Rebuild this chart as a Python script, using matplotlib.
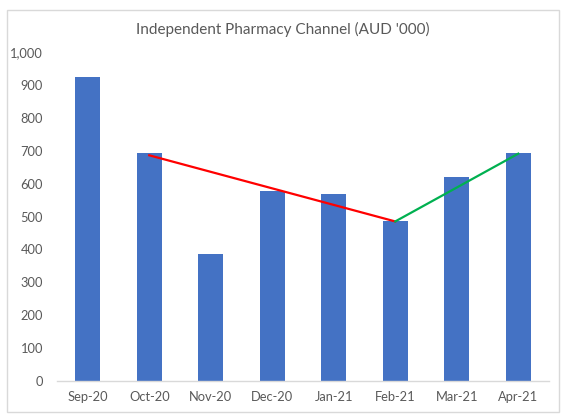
import matplotlib
matplotlib.use("Agg")
import matplotlib.pyplot as plt
from matplotlib.patches import Rectangle
from matplotlib.ticker import FuncFormatter

categories = ["Sep-20", "Oct-20", "Nov-20", "Dec-20", "Jan-21", "Feb-21", "Mar-21", "Apr-21"]
values = [924, 693, 386, 577, 568, 485, 620, 694]

red_trend_cats = ["Oct-20", "Feb-21"]
red_trend_vals = [686, 485]
green_trend_cats = ["Feb-21", "Apr-21"]
green_trend_vals = [485, 691]

yticks = list(range(0, 1001, 100))
title = "Independent Pharmacy Channel (AUD '000)"

plt.rcParams["font.family"] = ["Lato", "DejaVu Sans"]

W, H = 565, 419
fig = plt.figure(figsize=(W / 100, H / 100), dpi=100)
ax = fig.add_axes([57 / W, (H - 381) / H, (549 - 57) / W, (381 - 52) / H])

x = list(range(len(categories)))
ax.bar(x, values, width=0.4, color="#4472C4", zorder=2)

idx = {c: i for i, c in enumerate(categories)}
ax.plot([idx[c] for c in red_trend_cats], red_trend_vals, color="#FF0000", lw=1.6, zorder=3)
ax.plot([idx[c] for c in green_trend_cats], green_trend_vals, color="#00B050", lw=1.6, zorder=3)

ax.set_xlim(-0.5, len(categories) - 0.5)
ax.set_ylim(0, 1000)
ax.set_xticks(x)
ax.set_xticklabels(categories)
ax.set_yticks(yticks)
ax.yaxis.set_major_formatter(FuncFormatter(lambda v, p: f"{int(v):,}"))
ax.tick_params(axis="both", length=0, labelsize=9.3, colors="#595959")
ax.tick_params(axis="y", pad=10)
ax.tick_params(axis="x", pad=7)
for s in ["top", "right", "left"]:
    ax.spines[s].set_visible(False)
ax.spines["bottom"].set_color("#D9D9D9")
ax.spines["bottom"].set_linewidth(1.0)

fig.text(0.5 * (137 + 428) / W, 1 - 29 / H, title, ha="center", va="center",
         fontsize=11, color="#595959")

fig.patches.append(Rectangle((6.5 / W, (H - 412) / H), (559 - 6.5) / W, (412 - 10) / H,
                             transform=fig.transFigure, fill=False,
                             edgecolor="#D9D9D9", lw=1.0))

fig.savefig("out.png", dpi=100, facecolor="white")
